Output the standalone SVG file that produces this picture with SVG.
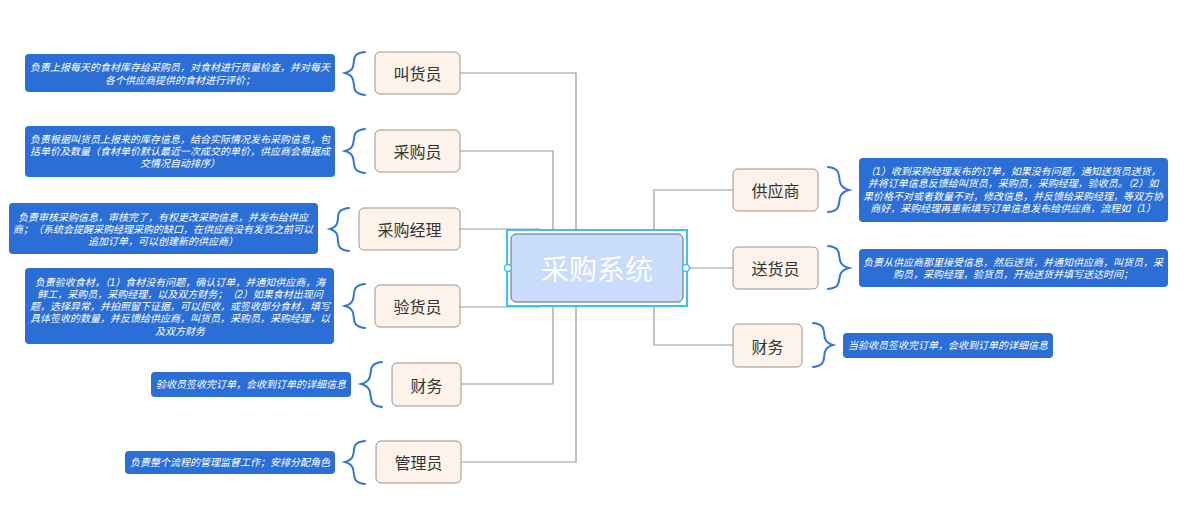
<svg xmlns="http://www.w3.org/2000/svg" width="1194" height="513" viewBox="0 0 1194 513">
<style>
.node rect{fill:#fdf3ea;stroke:#a09288;stroke-width:1}
.node text{font-family:"Noto Sans CJK SC","Noto Sans",sans-serif;font-size:16px;fill:#333;text-anchor:middle;dominant-baseline:central}
.call rect{fill:#2b6fd6}
.call text{font-family:"Liberation Sans","Noto Sans CJK SC",sans-serif;font-size:10px;font-style:italic;fill:#fff;text-anchor:middle;dominant-baseline:central}
.brace{fill:none;stroke:#2f74dc;stroke-width:2;stroke-linecap:round}
.conn path{fill:none;stroke:#999;stroke-width:1.2}
</style>
<rect width="1194" height="513" fill="#fff"/>
<g id="connectors" class="conn">
<path d="M460 73H576V268"/>
<path d="M460 151H553V268"/>
<path d="M460 229H539V268"/>
<path d="M460 307H539V268"/>
<path d="M461 384H553V268"/>
<path d="M461 462H576V268"/>
<path d="M733 190H654V268"/>
<path d="M686 268H733"/>
<path d="M733 345H654V268"/>
</g>
<g id="center">
<rect x="507" y="230" width="180" height="76" fill="#fff" stroke="#3ec0f2" stroke-width="2"/>
<rect x="511" y="234" width="172" height="68" rx="5" fill="#c9dcfc" stroke="#5b6a88" stroke-width="1"/>
<text x="597" y="268" font-family="'Noto Sans CJK SC','Noto Sans',sans-serif" font-size="28" fill="#fff" text-anchor="middle" dominant-baseline="central">采购系统</text>
<circle cx="508" cy="268" r="3.5" fill="#fff" stroke="#3ec0f2" stroke-width="1.5"/>
<circle cx="686" cy="268" r="3.5" fill="#fff" stroke="#3ec0f2" stroke-width="1.5"/>
</g>
<g id="n-jiaohuoyuan">
<g class="node"><rect x="375" y="52" width="85" height="42" rx="5"/><text x="417.500" y="73">叫货员</text></g>
<path class="brace" d="M365 52C345 54 362 68 345 73C362 78 345 93 365 95"/>
<g class="call"><rect x="25" y="54" width="310" height="38" rx="4"/>
<text x="180" y="67">负责上报每天的食材库存给采购员，对食材进行质量检查，并对每天</text>
<text x="180" y="80">各个供应商提供的食材进行评价；</text></g>
</g>
<g id="n-caigouyuan">
<g class="node"><rect x="375" y="130" width="85" height="42" rx="5"/><text x="417.500" y="151">采购员</text></g>
<path class="brace" d="M365 129C345 131 362 146 345 151C362 156 345 171 365 173"/>
<g class="call"><rect x="25" y="126" width="310" height="51" rx="4"/>
<text x="180" y="139">负责根据叫货员上报来的库存信息，结合实际情况发布采购信息，包</text>
<text x="180" y="151">括单价及数量（食材单价默认最近一次成交的单价，供应商会根据成</text>
<text x="180" y="163">交情况自动排序）</text></g>
</g>
<g id="n-caigoujingli">
<g class="node"><rect x="359" y="208" width="101" height="42" rx="5"/><text x="409.500" y="229">采购经理</text></g>
<path class="brace" d="M349 208C329 210 346 224 330 229C346 234 329 249 349 251"/>
<g class="call"><rect x="9" y="203" width="309" height="51" rx="4"/>
<text x="163" y="217">负责审核采购信息，审核完了，有权更改采购信息，并发布给供应</text>
<text x="163" y="229">商；（系统会提醒采购经理采购的缺口，在供应商没有发货之前可以</text>
<text x="163" y="241">追加订单，可以创建新的供应商）</text></g>
</g>
<g id="n-yanhuoyuan">
<g class="node"><rect x="375" y="285" width="85" height="42" rx="5"/><text x="417.500" y="306">验货员</text></g>
<path class="brace" d="M365 284C345 286 362 301 345 306C362 311 345 326 365 328"/>
<g class="call"><rect x="25" y="268" width="309" height="76" rx="4"/>
<text x="180" y="282">负责验收食材，（1）食材没有问题，确认订单，并通知供应商，海</text>
<text x="180" y="294">鲜工，采购员，采购经理，以及双方财务；（2）如果食材出现问</text>
<text x="180" y="306">题，选择异常，并拍照留下证据，可以拒收，或签收部分食材，填写</text>
<text x="180" y="318">具体签收的数量，并反馈给供应商，叫货员，采购员，采购经理，以</text>
<text x="180" y="331">及双方财务</text></g>
</g>
<g id="n-caiwu-left">
<g class="node"><rect x="392" y="363" width="69" height="43" rx="5"/><text x="426.500" y="384.500">财务</text></g>
<path class="brace" d="M382 362C362 364 379 379 361 384C379 389 362 405 382 407"/>
<g class="call"><rect x="151" y="372" width="200" height="25" rx="4"/>
<text x="251" y="384.500">验收员签收完订单，会收到订单的详细信息</text></g>
</g>
<g id="n-guanliyuan">
<g class="node"><rect x="376" y="441" width="85" height="42" rx="5"/><text x="418.500" y="462">管理员</text></g>
<path class="brace" d="M365 441C345 443 362 457 345 462C362 467 345 482 365 484"/>
<g class="call"><rect x="125" y="451" width="210" height="23" rx="4"/>
<text x="230" y="462.500">负责整个流程的管理监督工作；安排分配角色</text></g>
</g>
<g id="n-gongyingshang">
<g class="node"><rect x="733" y="169" width="85" height="42" rx="5"/><text x="775.500" y="190">供应商</text></g>
<path class="brace" d="M828 167C848 169 831 185 849 190C831 195 848 210 828 212"/>
<g class="call"><rect x="859" y="158" width="309" height="64" rx="4"/>
<text x="1013" y="171">（1）收到采购经理发布的订单，如果没有问题，通知送货员送货，</text>
<text x="1013" y="183">并将订单信息反馈给叫货员，采购员，采购经理，验收员。（2）如</text>
<text x="1013" y="196">果价格不对或者数量不对，修改信息，并反馈给采购经理，等双方协</text>
<text x="1013" y="208">商好，采购经理再重新填写订单信息发布给供应商，流程如（1）</text></g>
</g>
<g id="n-songhuoyuan">
<g class="node"><rect x="733" y="247" width="85" height="42" rx="5"/><text x="775.500" y="268">送货员</text></g>
<path class="brace" d="M828 246C848 248 831 263 849 268C831 273 848 287 828 289"/>
<g class="call"><rect x="859" y="249" width="309" height="38" rx="4"/>
<text x="1013" y="262">负责从供应商那里接受信息，然后送货，并通知供应商，叫货员，采</text>
<text x="1013" y="274">购员，采购经理，验货员，开始送货并填写送达时间；</text></g>
</g>
<g id="n-caiwu-right">
<g class="node"><rect x="733" y="324" width="69" height="43" rx="5"/><text x="767.500" y="345.500">财务</text></g>
<path class="brace" d="M813 323C833 325 816 340 833 345C816 350 833 365 813 367"/>
<g class="call"><rect x="843" y="333" width="210" height="25" rx="4"/>
<text x="948" y="345.500">当验收员签收完订单，会收到订单的详细信息</text></g>
</g>
</svg>
